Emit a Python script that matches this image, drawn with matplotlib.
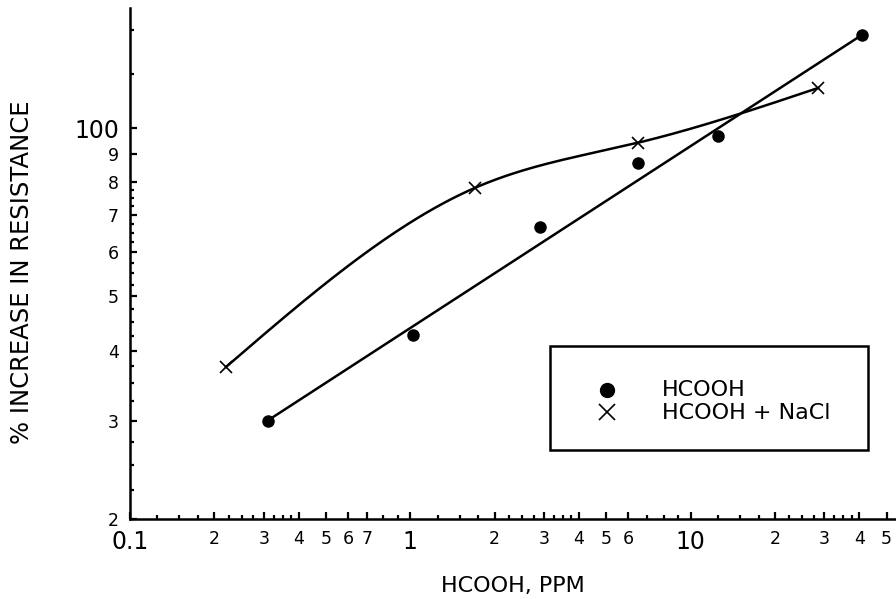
import matplotlib
matplotlib.use("Agg")
import matplotlib.pyplot as plt
import numpy as np
from matplotlib.ticker import FixedLocator, FixedFormatter, NullFormatter
from matplotlib.patches import Rectangle
from matplotlib.lines import Line2D

plt.rcParams['font.family'] = ['DejaVu Sans']

# HCOOH alone (filled circles)
hcooh_ppm = [0.31, 1.02, 2.9, 6.5, 12.5, 41.0]
hcooh_pct = [3.0, 4.27, 6.66, 8.67, 9.7, 14.7]

# HCOOH + NaCl (crosses)
nacl_ppm = [0.22, 1.7, 6.5, 28.5]
nacl_pct = [3.74, 7.82, 9.42, 11.8]

# tick labels as printed on the original
x_major = [0.1, 0.2, 0.3, 0.4, 0.5, 0.6, 0.7, 1, 2, 3, 4, 5, 6, 10, 20, 30, 40, 50]
x_labels = ['0.1', '2', '3', '4', '5', '6', '7', '1', '2', '3', '4', '5', '6',
            '10', '2', '3', '4', '5']
y_major = [2, 3, 4, 5, 6, 7, 8, 9, 10]
y_labels = ['2', '3', '4', '5', '6', '7', '8', '9', '100']
big_labels = ['0.1', '1', '10', '100']


def natural_spline(x, y, xs):
    # natural cubic spline through the points (no scipy needed)
    x = np.asarray(x, float)
    y = np.asarray(y, float)
    n = len(x)
    h = np.diff(x)
    A = np.zeros((n, n))
    b = np.zeros(n)
    A[0, 0] = A[-1, -1] = 1
    for i in range(1, n - 1):
        A[i, i - 1] = h[i - 1]
        A[i, i] = 2 * (h[i - 1] + h[i])
        A[i, i + 1] = h[i]
        b[i] = 6 * ((y[i + 1] - y[i]) / h[i] - (y[i] - y[i - 1]) / h[i - 1])
    M = np.linalg.solve(A, b)
    out = []
    for v in xs:
        i = min(max(np.searchsorted(x, v) - 1, 0), n - 2)
        t1 = x[i + 1] - v
        t0 = v - x[i]
        out.append(M[i] * t1 ** 3 / (6 * h[i]) + M[i + 1] * t0 ** 3 / (6 * h[i])
                   + (y[i] / h[i] - M[i] * h[i] / 6) * t1
                   + (y[i + 1] / h[i] - M[i + 1] * h[i] / 6) * t0)
    return np.array(out)


fig = plt.figure(figsize=(8.96, 5.99), dpi=100)
ax = fig.add_axes([130 / 896, 80 / 599, 766 / 896, 511 / 599])

ax.set_xscale('log')
ax.set_yscale('log')
ax.set_xlim(0.1, 54)
ax.set_ylim(2, 16.4)

# straight line (log-log) for HCOOH, first to last point
lx = np.log10(hcooh_ppm)
ly = np.log10(hcooh_pct)
xs = np.linspace(lx[0], lx[-1], 50)
ax.plot(10 ** xs, 10 ** np.interp(xs, [lx[0], lx[-1]], [ly[0], ly[-1]]),
        color='black', lw=1.8)

# smooth curve through NaCl points
nx = np.log10(nacl_ppm)
ny = np.log10(nacl_pct)
xs2 = np.linspace(nx[0], nx[-1], 200)
ax.plot(10 ** xs2, 10 ** natural_spline(nx, ny, xs2), color='black', lw=1.8)

ax.plot(hcooh_ppm, hcooh_pct, 'o', color='black', ms=8)
ax.plot(nacl_ppm, nacl_pct, 'x', color='black', ms=9, mew=1.2)

# axes styling
for s in ['top', 'right']:
    ax.spines[s].set_visible(False)
for s in ['left', 'bottom']:
    ax.spines[s].set_linewidth(1.8)

ax.xaxis.set_major_locator(FixedLocator(x_major))
ax.xaxis.set_major_formatter(FixedFormatter(x_labels))
x_minor = []
for dec in [0.1, 1, 10]:
    for m in [1.25, 1.5, 1.75, 2.25, 2.5, 2.75, 3.25, 3.5, 3.75, 7, 8, 9]:
        if m * dec < 54 and m * dec not in x_major:
            x_minor.append(m * dec)
ax.xaxis.set_minor_locator(FixedLocator(x_minor))
ax.xaxis.set_minor_formatter(NullFormatter())

ax.yaxis.set_major_locator(FixedLocator(y_major))
ax.yaxis.set_major_formatter(FixedFormatter(y_labels))
y_minor = [2.25, 2.5, 2.75, 3.25, 3.5, 3.75, 4.25, 4.5, 4.75,
           5.25, 5.5, 5.75, 6.25, 6.5, 6.75, 7.25, 7.5, 7.75, 12.5, 15]
ax.yaxis.set_minor_locator(FixedLocator(y_minor))
ax.yaxis.set_minor_formatter(NullFormatter())

ax.tick_params(which='major', direction='in', length=5, width=1.6, labelsize=12.5)
ax.tick_params(which='minor', direction='in', length=3, width=1.6)
ax.tick_params(axis='x', which='major', pad=8)
ax.tick_params(axis='y', which='major', pad=8)

for lab in ax.get_xticklabels() + ax.get_yticklabels():
    if lab.get_text() in big_labels:
        lab.set_fontsize(17)

fig.text(513 / 896, 1 - 586 / 599, 'HCOOH, PPM', ha='center', va='center', fontsize=16)
fig.text(22 / 896, 1 - 272 / 599, '% INCREASE IN RESISTANCE', rotation=90,
         ha='center', va='center', fontsize=17.5)

# legend box drawn by hand to match the boxed key
fig.add_artist(Rectangle((550 / 896, 1 - 450 / 599), 318 / 896, 104 / 599,
                         transform=fig.transFigure, fill=False, lw=1.8,
                         edgecolor='black'))
fig.add_artist(Line2D([607 / 896], [1 - 390 / 599], marker='o', color='black',
                      ms=10, transform=fig.transFigure))
fig.add_artist(Line2D([607 / 896], [1 - 412 / 599], marker='x', color='black',
                      ms=11, mew=1.2, transform=fig.transFigure))
fig.text(662 / 896, 1 - 390 / 599, 'HCOOH', va='center', fontsize=16)
fig.text(662 / 896, 1 - 413 / 599, 'HCOOH + NaCl', va='center', fontsize=16)

fig.savefig('out.png', dpi=100)
